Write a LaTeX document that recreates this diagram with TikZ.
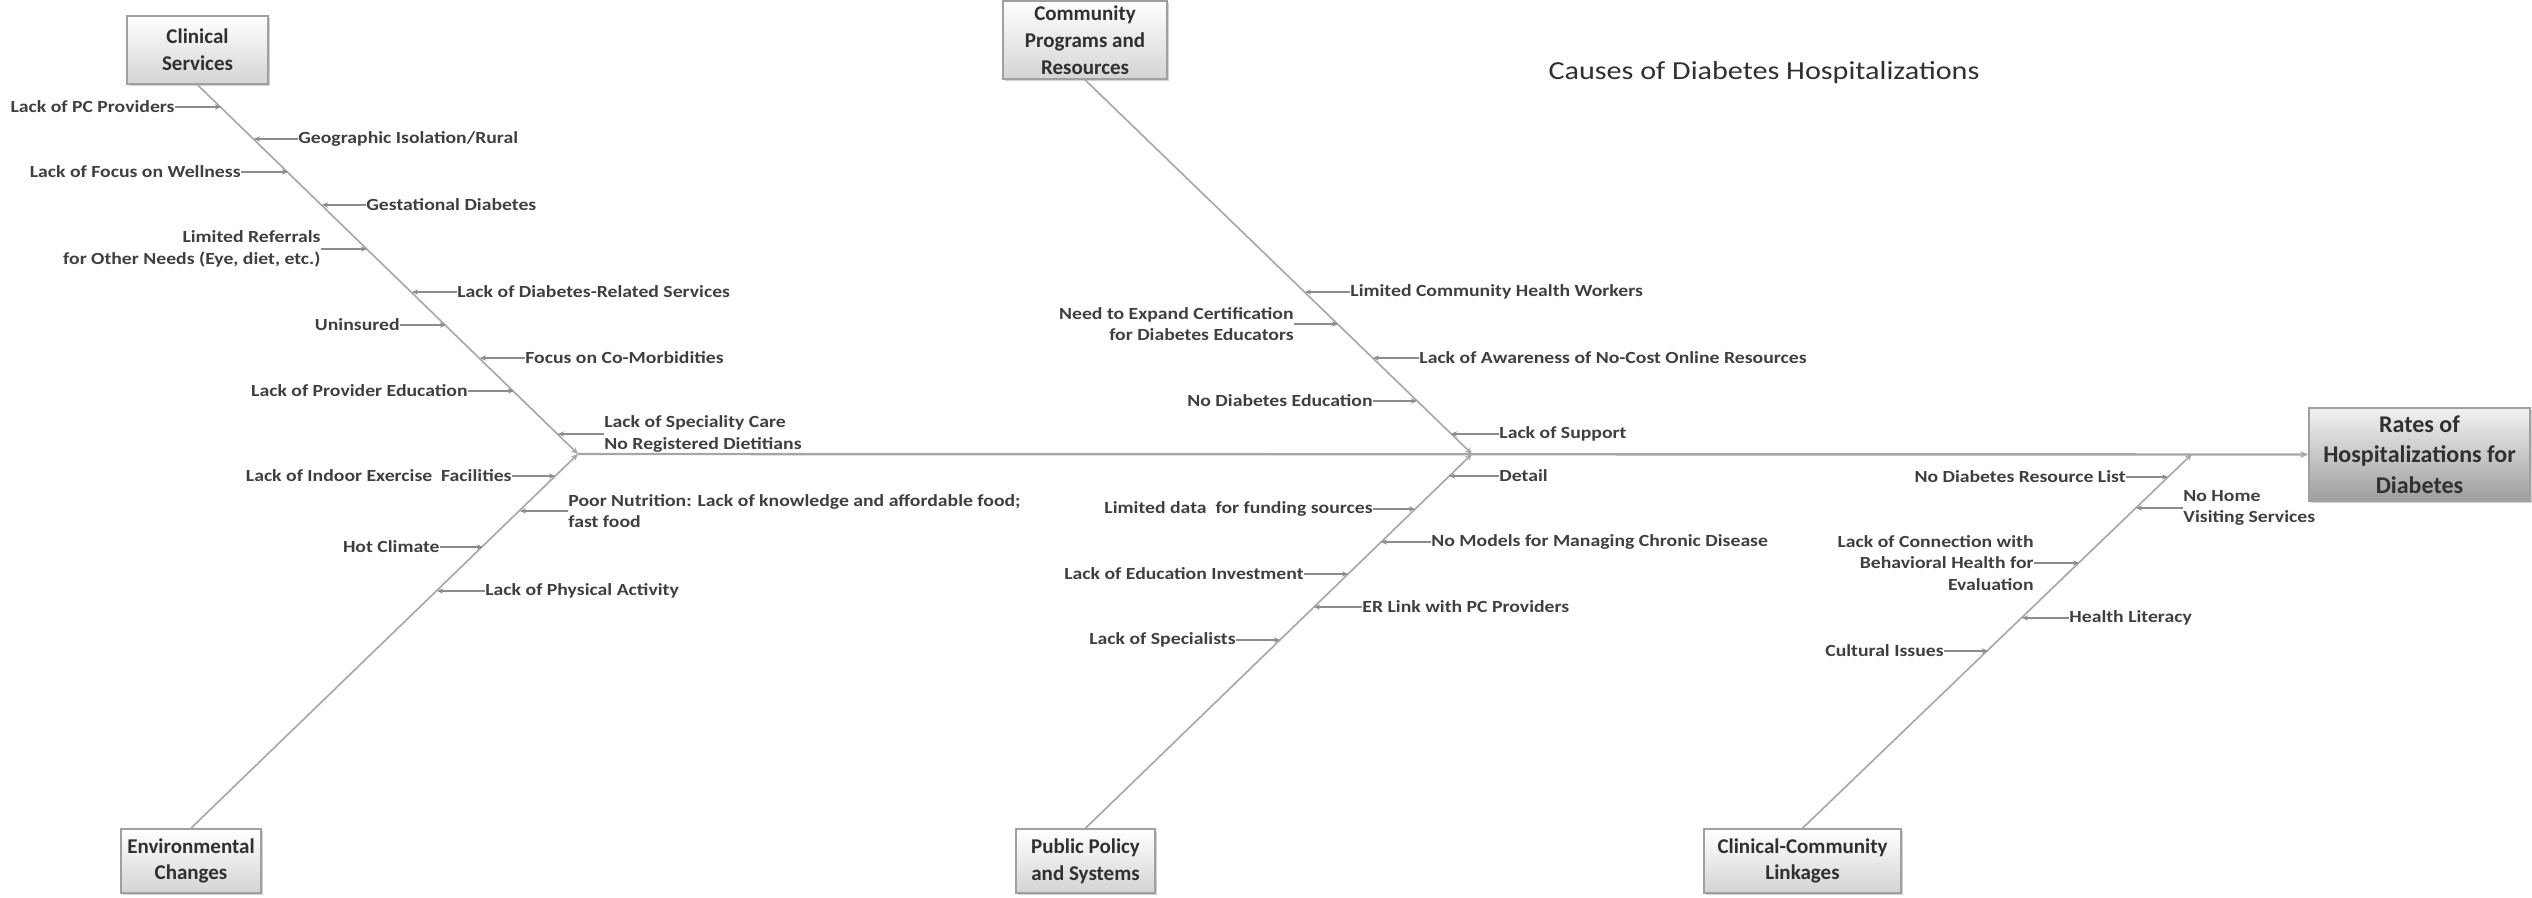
\documentclass[tikz,border=0pt]{standalone}
\usepackage{fontspec}
\setmainfont{Carlito}
\newfontfamily\lblfont{Carlito}[FakeStretch=1.16]
\usetikzlibrary{arrows.meta,shadows}
\definecolor{linegray}{HTML}{A6A6A6}
\definecolor{arrowgray}{HTML}{8C8C8C}
\definecolor{txt}{HTML}{3F3F3F}
\definecolor{boxtxt}{HTML}{303030}
\definecolor{boxborder}{HTML}{A0A0A0}
\definecolor{boxbot}{HTML}{D4D4D4}
\definecolor{ratestop}{HTML}{F2F2F2}
\definecolor{ratesbot}{HTML}{9E9E9E}
\begin{document}
\begin{tikzpicture}[x=0.5pt,y=-0.5pt,
  cat/.style={draw=boxborder, line width=0.8pt, top color=white, bottom color=boxbot,
    align=center, font=\fontsize{10.5}{13.4}\selectfont\bfseries, text=boxtxt, inner sep=0pt,
    drop shadow={shadow xshift=1pt,shadow yshift=-1pt,opacity=0.3,fill=black!60}},
  ratesbox/.style={cat, top color=ratestop, bottom color=ratesbot,
    font=\fontsize{12}{15.3}\selectfont\bfseries},
  lbl/.style={font=\lblfont\fontsize{8.5}{10.8}\selectfont\bfseries, text=txt, inner sep=0pt},
  lblL/.style={lbl, anchor=east, align=right},
  lblR/.style={lbl, anchor=west, align=left},
  cause/.style={draw=arrowgray, line width=0.9pt, -{Stealth[length=3pt,width=2.6pt]}},
  bone/.style={draw=linegray, line width=0.8pt, -{Stealth[length=3.5pt,width=3pt]}},
  spine/.style={draw=linegray, line width=1.2pt, -{Stealth[length=4pt,width=3.5pt]}},
]
\useasboundingbox (0,0) rectangle (2532,898);

% category boxes
\node[cat, minimum width=70.5pt, minimum height=34pt] (cs) at (197.5,50) {Clinical\\Services};
\node[cat, minimum width=82pt, minimum height=39pt] (cp) at (1085,40) {Community\\Programs and\\Resources};
\node[cat, minimum width=70pt, minimum height=32pt] (ec) at (191,861) {Environmental\\Changes};
\node[cat, minimum width=69.5pt, minimum height=32pt] (pp) at (1085.5,861) {Public Policy\\and Systems};
\node[cat, minimum width=98.5pt, minimum height=32pt] (cl) at (1802.5,861) {Clinical-Community\\Linkages};
\node[ratesbox, minimum width=110.5pt, minimum height=46.5pt] (rh) at (2419.5,454.5) {Rates of\\Hospitalizations for\\Diabetes};

\node[font=\lblfont\fontsize{13}{15}\selectfont, text=boxtxt] (title) at (1764,73) {Causes of Diabetes Hospitalizations};

% junctions
\coordinate (j1) at (578,454);
\coordinate (j2) at (1472,454);
\coordinate (j3) at (2192,454);

\draw[spine] (j1) -- (rh.west);
\draw[bone] (cs.south) -- (j1);
\draw[bone] (ec.north) -- (j1);
\draw[bone] (cp.south) -- (j2);
\draw[bone] (pp.north) -- (j2);
\draw[bone] (cl.north) -- (j3);

% Clinical Services causes
\coordinate (t1) at (221,107); \node[lblL] (l1) at (175,107) {Lack of PC Providers}; \draw[cause] (l1.east) -- (t1);
\coordinate (t2) at (254,139); \node[lblR] (l2) at (298,139) {Geographic Isolation/Rural}; \draw[cause] (l2.west) -- (t2);
\coordinate (t3) at (288,172); \node[lblL] (l3) at (241,172) {Lack of Focus on Wellness}; \draw[cause] (l3.east) -- (t3);
\coordinate (t4) at (322,205); \node[lblR] (l4) at (366,205) {Gestational Diabetes}; \draw[cause] (l4.west) -- (t4);
\coordinate (t5) at (367,249); \node[lblL] (l5) at (321,249) {Limited Referrals\\for Other Needs (Eye, diet, etc.)}; \draw[cause] (l5.east) -- (t5);
\coordinate (t6) at (412,292); \node[lblR] (l6) at (457,292) {Lack of Diabetes-Related Services}; \draw[cause] (l6.west) -- (t6);
\coordinate (t7) at (446,325); \node[lblL] (l7) at (400,325) {Uninsured}; \draw[cause] (l7.east) -- (t7);
\coordinate (t8) at (480,358); \node[lblR] (l8) at (525,358) {Focus on Co-Morbidities}; \draw[cause] (l8.west) -- (t8);
\coordinate (t9) at (514,391); \node[lblL] (l9) at (468,391) {Lack of Provider Education}; \draw[cause] (l9.east) -- (t9);
\coordinate (t10) at (558,434); \node[lblR] (l10) at (604,434) {Lack of Speciality Care\\No Registered Dietitians}; \draw[cause] (l10.west) -- (t10);

% Environmental Changes causes
\coordinate (t12) at (555,476); \node[lblL] (l12) at (512,476) {Lack of Indoor Exercise\ \ Facilities}; \draw[cause] (l12.east) -- (t12);
\coordinate (t13) at (520,511); \node[lblR] (l13) at (568,511) {Poor Nutrition: Lack of knowledge and affordable food;\\fast food}; \draw[cause] (l13.west) -- (t13);
\coordinate (t14) at (483,547); \node[lblL] (l14) at (440,547) {Hot Climate}; \draw[cause] (l14.east) -- (t14);
\coordinate (t15) at (437,591); \node[lblR] (l15) at (485,591) {Lack of Physical Activity}; \draw[cause] (l15.west) -- (t15);

% Community Programs causes
\coordinate (t16) at (1305,292); \node[lblR] (l16) at (1350,292) {Limited Community Health Workers}; \draw[cause] (l16.west) -- (t16);
\coordinate (t17) at (1338,324); \node[lblL] (l17) at (1294,324) {Need to Expand Certification\\for Diabetes Educators}; \draw[cause] (l17.east) -- (t17);
\coordinate (t18) at (1373,358); \node[lblR] (l18) at (1419,358) {Lack of Awareness of No-Cost Online Resources}; \draw[cause] (l18.west) -- (t18);
\coordinate (t19) at (1417,401); \node[lblL] (l19) at (1373,401) {No Diabetes Education}; \draw[cause] (l19.east) -- (t19);
\coordinate (t20) at (1451,434); \node[lblR] (l20) at (1499,434) {Lack of Support}; \draw[cause] (l20.west) -- (t20);

% Public Policy causes
\coordinate (t21) at (1449,476); \node[lblR] (l21) at (1499,476) {Detail}; \draw[cause] (l21.west) -- (t21);
\coordinate (t22) at (1415,509); \node[lblL] (l22) at (1373,509) {Limited data\ \ for funding sources}; \draw[cause] (l22.east) -- (t22);
\coordinate (t23) at (1381,542); \node[lblR] (l23) at (1431,542) {No Models for Managing Chronic Disease}; \draw[cause] (l23.west) -- (t23);
\coordinate (t24) at (1348,574); \node[lblL] (l24) at (1304,574) {Lack of Education Investment}; \draw[cause] (l24.east) -- (t24);
\coordinate (t25) at (1314,607); \node[lblR] (l25) at (1362,607) {ER Link with PC Providers}; \draw[cause] (l25.west) -- (t25);
\coordinate (t26) at (1280,640); \node[lblL] (l26) at (1236,640) {Lack of Specialists}; \draw[cause] (l26.east) -- (t26);

% Clinical-Community Linkages causes
\coordinate (t27) at (2168,477); \node[lblL] (l27) at (2126,477) {No Diabetes Resource List}; \draw[cause] (l27.east) -- (t27);
\coordinate (t28) at (2136,508); \node[lblR] (l28) at (2183,508) {No Home\\Visiting Services}; \draw[cause] (l28.west) -- (t28);
\coordinate (t29) at (2079,563); \node[lblL] (l29) at (2034,563) {Lack of Connection with\\Behavioral Health for\\Evaluation}; \draw[cause] (l29.east) -- (t29);
\coordinate (t30) at (2022,618); \node[lblR] (l30) at (2069,618) {Health Literacy}; \draw[cause] (l30.west) -- (t30);
\coordinate (t31) at (1988,651); \node[lblL] (l31) at (1944,651) {Cultural Issues}; \draw[cause] (l31.east) -- (t31);
\end{tikzpicture}
\end{document}
